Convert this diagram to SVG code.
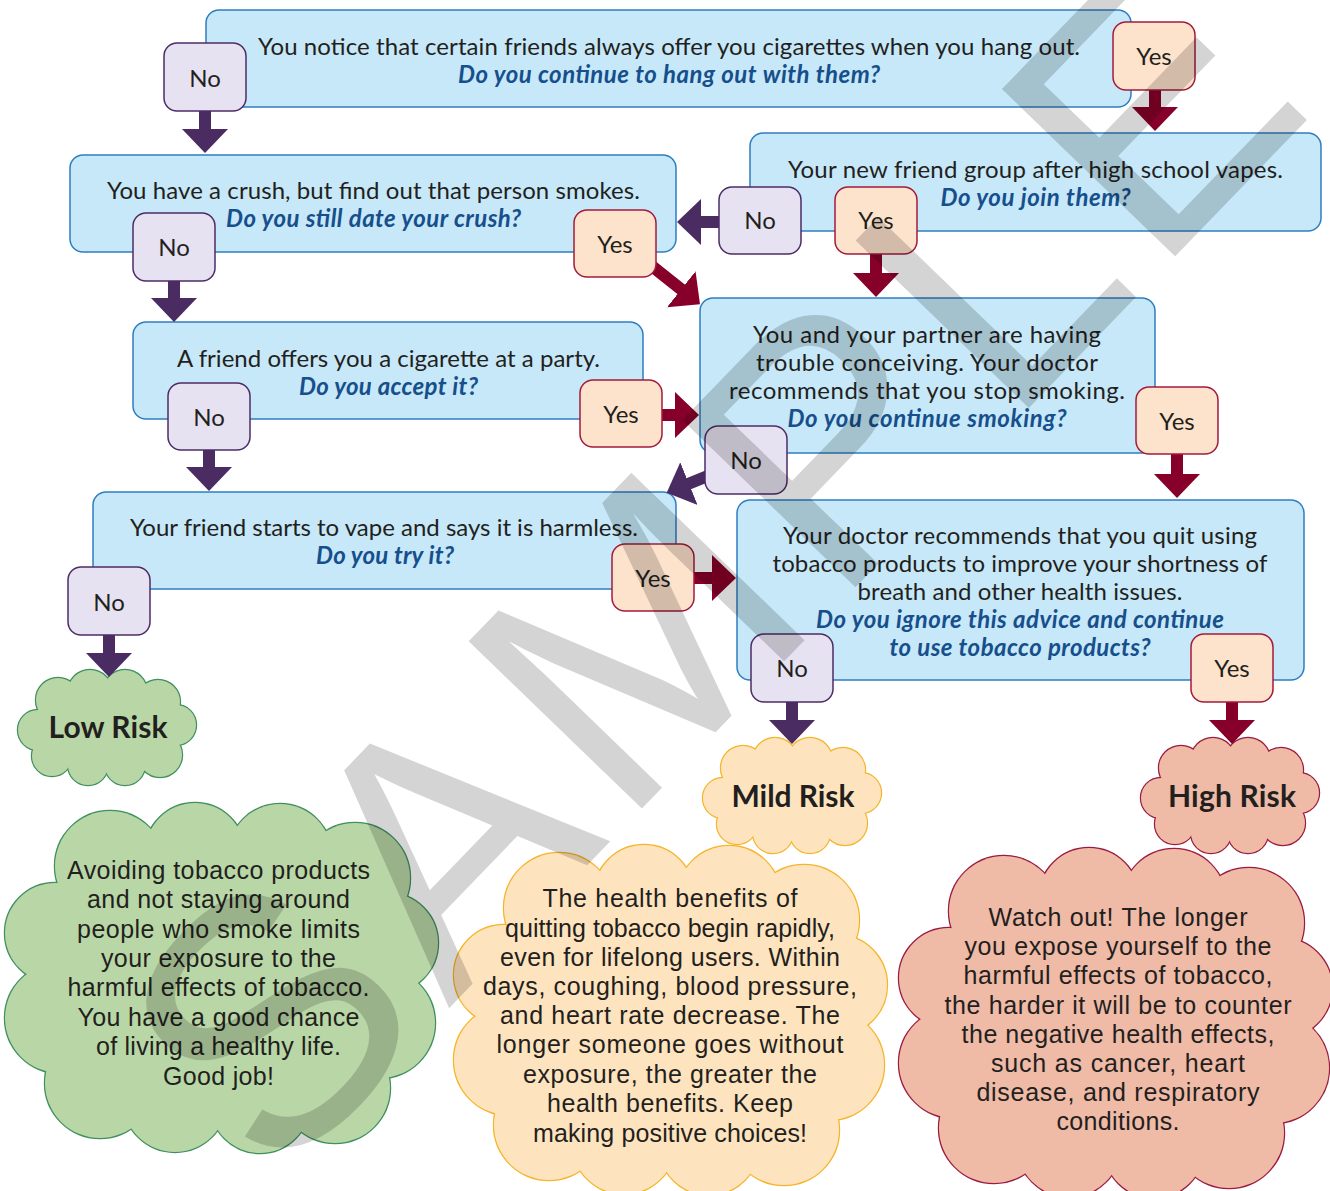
<svg xmlns="http://www.w3.org/2000/svg" xmlns:xlink="http://www.w3.org/1999/xlink" width="1330" height="1191" viewBox="0 0 1330 1191">
<style>
.q{fill:#c6e8f8;stroke:#2f7ec1;stroke-width:1.5}
.no rect{fill:#e6e2f1;stroke:#4d2c67;stroke-width:1.5}
.yes rect{fill:#fde3cc;stroke:#a31b3d;stroke-width:1.5}
.t{font-family:Lato,"Open Sans",sans-serif;font-size:24px;fill:#231f20;text-anchor:middle}
.i{font-family:Lato,"Open Sans",sans-serif;font-size:24px;font-weight:bold;font-style:italic;fill:#164f8c;text-anchor:middle}
.lbl{font-family:Lato,"Open Sans",sans-serif;font-size:24px;fill:#231f20;text-anchor:middle}
.risk{font-family:Lato,"Open Sans",sans-serif;font-size:30px;font-weight:bold;fill:#231f20;text-anchor:middle}
.b{font-family:"Liberation Sans",Arial,sans-serif;font-size:25px;fill:#231f20;text-anchor:middle}
.cp{fill:none;stroke:#4a2b62;stroke-width:12}
.cr{fill:none;stroke:#870029;stroke-width:12}
.wm{font-family:"Liberation Sans",Arial,sans-serif;font-size:350px;letter-spacing:16px;fill:#000;fill-opacity:0.17;text-anchor:middle}
</style>
<defs>
<marker id="hp" viewBox="0 0 24 46" markerWidth="24" markerHeight="46" refX="1" refY="23" orient="auto" markerUnits="userSpaceOnUse"><path d="M0,0 L24,23 L0,46 Z" fill="#4a2b62"/></marker>
<marker id="hr" viewBox="0 0 24 46" markerWidth="24" markerHeight="46" refX="1" refY="23" orient="auto" markerUnits="userSpaceOnUse"><path d="M0,0 L24,23 L0,46 Z" fill="#870029"/></marker>
<g id="cs">
<circle cx="-50" cy="-28" r="22"/><circle cx="-18" cy="-36" r="22"/><circle cx="17" cy="-36" r="22"/><circle cx="50" cy="-26" r="22"/><circle cx="68" cy="-3" r="20"/><circle cx="52" cy="27" r="22"/><circle cx="17" cy="37" r="20"/><circle cx="-20" cy="37" r="20"/><circle cx="-56" cy="28" r="20"/><circle cx="-70" cy="2" r="20"/><ellipse cx="0" cy="0" rx="64" ry="34"/>
</g>
<g id="cb">
<circle cx="-110" cy="-112" r="55"/><circle cx="-25" cy="-125" r="50"/><circle cx="60" cy="-122" r="52"/><circle cx="135" cy="-100" r="55"/><circle cx="168" cy="-35" r="50"/><circle cx="160" cy="45" r="55"/><circle cx="115" cy="110" r="55"/><circle cx="40" cy="125" r="50"/><circle cx="-45" cy="122" r="52"/><circle cx="-120" cy="105" r="55"/><circle cx="-160" cy="40" r="55"/><circle cx="-165" cy="-45" r="50"/><ellipse cx="0" cy="0" rx="175" ry="135"/>
</g>
</defs>
<rect width="1330" height="1191" fill="#fff"/>

<g id="low-risk">
<use xlink:href="#cs" x="108" y="728" fill="#b9d7a6" stroke="#3f8f5f" stroke-width="2.4"/>
<use xlink:href="#cs" x="108" y="728" fill="#b9d7a6"/>
<text class="risk" x="108" y="738" textLength="119">Low Risk</text>
</g>
<g id="mild-risk">
<use xlink:href="#cs" x="793" y="796" fill="#fee4be" stroke="#f5b52b" stroke-width="2.4"/>
<use xlink:href="#cs" x="793" y="796" fill="#fee4be"/>
<text class="risk" x="793" y="807" textLength="123">Mild Risk</text>
</g>
<g id="high-risk">
<use xlink:href="#cs" x="1231" y="796" fill="#efbaa6" stroke="#9b1c41" stroke-width="2.4"/>
<use xlink:href="#cs" x="1231" y="796" fill="#efbaa6"/>
<text class="risk" x="1232" y="807" textLength="128">High Risk</text>
</g>

<g id="low-note">
<use xlink:href="#cb" x="220" y="978" fill="#b9d7a6" stroke="#3f8f5f" stroke-width="2.4"/>
<use xlink:href="#cb" x="220" y="978" fill="#b9d7a6"/>
<text class="b" x="218.5" y="879" textLength="303">Avoiding tobacco products</text>
<text class="b" x="218.5" y="908" textLength="263">and not staying around</text>
<text class="b" x="218.5" y="938" textLength="283">people who smoke limits</text>
<text class="b" x="218.5" y="967" textLength="235">your exposure to the</text>
<text class="b" x="218.5" y="996" textLength="302">harmful effects of tobacco.</text>
<text class="b" x="218.5" y="1026" textLength="282">You have a good chance</text>
<text class="b" x="218.5" y="1055" textLength="245">of living a healthy life.</text>
<text class="b" x="218.5" y="1085" textLength="111">Good job!</text>
</g>
<g id="mild-note">
<use xlink:href="#cb" x="669" y="1020" fill="#fee4be" stroke="#f5b52b" stroke-width="2.4"/>
<use xlink:href="#cb" x="669" y="1020" fill="#fee4be"/>
<text class="b" x="670" y="907" textLength="255">The health benefits of</text>
<text class="b" x="670" y="937" textLength="330">quitting tobacco begin rapidly,</text>
<text class="b" x="670" y="966" textLength="340">even for lifelong users. Within</text>
<text class="b" x="670" y="995" textLength="374">days, coughing, blood pressure,</text>
<text class="b" x="670" y="1024" textLength="340">and heart rate decrease. The</text>
<text class="b" x="670" y="1053" textLength="347">longer someone goes without</text>
<text class="b" x="670" y="1083" textLength="294">exposure, the greater the</text>
<text class="b" x="670" y="1112" textLength="246">health benefits. Keep</text>
<text class="b" x="670" y="1142" textLength="274">making positive choices!</text>
</g>
<g id="high-note">
<use xlink:href="#cb" x="1114" y="1023" fill="#efbaa6" stroke="#9b1c41" stroke-width="2.4"/>
<use xlink:href="#cb" x="1114" y="1023" fill="#efbaa6"/>
<text class="b" x="1118" y="926" textLength="259">Watch out! The longer</text>
<text class="b" x="1118" y="955" textLength="307">you expose yourself to the</text>
<text class="b" x="1118" y="984" textLength="309">harmful effects of tobacco,</text>
<text class="b" x="1118" y="1014" textLength="347">the harder it will be to counter</text>
<text class="b" x="1118" y="1043" textLength="313">the negative health effects,</text>
<text class="b" x="1118" y="1072" textLength="254">such as cancer, heart</text>
<text class="b" x="1118" y="1101" textLength="283">disease, and respiratory</text>
<text class="b" x="1118" y="1130" textLength="123">conditions.</text>
</g>

<g id="q1"><rect class="q" x="206" y="10" width="925" height="97" rx="13"/>
<text class="t" x="669" y="55" textLength="822">You notice that certain friends always offer you cigarettes when you hang out.</text>
<text class="i" x="669" y="83" textLength="422">Do you continue to hang out with them?</text></g>
<g id="q2"><rect class="q" x="70" y="155" width="606" height="97" rx="13"/>
<text class="t" x="373.5" y="199" textLength="533">You have a crush, but find out that person smokes.</text>
<text class="i" x="373.5" y="227" textLength="295">Do you still date your crush?</text></g>
<g id="q3"><rect class="q" x="750" y="133" width="571" height="98" rx="13"/>
<text class="t" x="1035.5" y="178" textLength="495">Your new friend group after high school vapes.</text>
<text class="i" x="1035.5" y="206" textLength="190">Do you join them?</text></g>
<g id="q4"><rect class="q" x="133" y="322" width="510" height="97" rx="13"/>
<text class="t" x="388.5" y="367" textLength="423">A friend offers you a cigarette at a party.</text>
<text class="i" x="388.5" y="395" textLength="179">Do you accept it?</text></g>
<g id="q5"><rect class="q" x="700" y="298" width="455" height="155" rx="13"/>
<text class="t" x="927" y="343" textLength="348">You and your partner are having</text>
<text class="t" x="927" y="371" textLength="342">trouble conceiving. Your doctor</text>
<text class="t" x="927" y="399" textLength="396">recommends that you stop smoking.</text>
<text class="i" x="927" y="427" textLength="279">Do you continue smoking?</text></g>
<g id="q6"><rect class="q" x="93" y="492" width="583" height="97" rx="13"/>
<text class="t" x="384" y="536" textLength="508">Your friend starts to vape and says it is harmless.</text>
<text class="i" x="385" y="564" textLength="138">Do you try it?</text></g>
<g id="q7"><rect class="q" x="737" y="500" width="567" height="180" rx="13"/>
<text class="t" x="1020" y="544" textLength="474">Your doctor recommends that you quit using</text>
<text class="t" x="1020" y="572" textLength="495">tobacco products to improve your shortness of</text>
<text class="t" x="1020" y="600" textLength="325">breath and other health issues.</text>
<text class="i" x="1020" y="628" textLength="408">Do you ignore this advice and continue</text>
<text class="i" x="1020" y="656" textLength="261">to use tobacco products?</text></g>

<g id="connectors">
<path class="cp" d="M205,100 L205,130" marker-end="url(#hp)"/>
<path class="cr" d="M1155,80 L1155,108" marker-end="url(#hr)"/>
<path class="cp" d="M730,222 L700,222" marker-end="url(#hp)"/>
<path class="cr" d="M876,245 L876,274" marker-end="url(#hr)"/>
<path class="cr" d="M643,259 L682,290" marker-end="url(#hr)"/>
<path class="cp" d="M174,270 L174,299" marker-end="url(#hp)"/>
<path class="cr" d="M650,415 L676,415" marker-end="url(#hr)"/>
<path class="cp" d="M209,440 L209,468" marker-end="url(#hp)"/>
<path class="cp" d="M720,471 L688,484" marker-end="url(#hp)"/>
<path class="cr" d="M1177,445 L1177,475" marker-end="url(#hr)"/>
<path class="cr" d="M684,578 L713,578" marker-end="url(#hr)"/>
<path class="cp" d="M109,625 L109,654" marker-end="url(#hp)"/>
<path class="cp" d="M792,690 L792,721" marker-end="url(#hp)"/>
<path class="cr" d="M1232,690 L1232,721" marker-end="url(#hr)"/>
</g>

<g id="no1" class="no"><rect x="164" y="43" width="82" height="68" rx="13"/><text class="lbl" x="205" y="87">No</text></g>
<g id="yes1" class="yes"><rect x="1113" y="22" width="82" height="68" rx="13"/><text class="lbl" x="1154" y="65">Yes</text></g>
<g id="no2" class="no"><rect x="133" y="213" width="82" height="68" rx="13"/><text class="lbl" x="174" y="256">No</text></g>
<g id="yes2" class="yes"><rect x="574" y="210" width="82" height="67" rx="13"/><text class="lbl" x="615" y="253">Yes</text></g>
<g id="no3" class="no"><rect x="719" y="187" width="82" height="67" rx="13"/><text class="lbl" x="760" y="229">No</text></g>
<g id="yes3" class="yes"><rect x="835" y="187" width="82" height="67" rx="13"/><text class="lbl" x="876" y="229">Yes</text></g>
<g id="no4" class="no"><rect x="168" y="383" width="82" height="67" rx="13"/><text class="lbl" x="209" y="426">No</text></g>
<g id="yes4" class="yes"><rect x="580" y="380" width="82" height="67" rx="13"/><text class="lbl" x="621" y="423">Yes</text></g>
<g id="no5" class="no"><rect x="705" y="426" width="82" height="68" rx="13"/><text class="lbl" x="746" y="469">No</text></g>
<g id="yes5" class="yes"><rect x="1136" y="387" width="82" height="67" rx="13"/><text class="lbl" x="1177" y="430">Yes</text></g>
<g id="no6" class="no"><rect x="68" y="567" width="82" height="68" rx="13"/><text class="lbl" x="109" y="611">No</text></g>
<g id="yes6" class="yes"><rect x="612" y="544" width="82" height="67" rx="13"/><text class="lbl" x="653" y="587">Yes</text></g>
<g id="no7" class="no"><rect x="751" y="634" width="82" height="68" rx="13"/><text class="lbl" x="792" y="677">No</text></g>
<g id="yes7" class="yes"><rect x="1191" y="634" width="82" height="68" rx="13"/><text class="lbl" x="1232" y="677">Yes</text></g>

<g id="watermark">
<text class="wm" transform="translate(712,556) rotate(-46)" x="0" y="125">SAMPLE</text>
</g>
</svg>
